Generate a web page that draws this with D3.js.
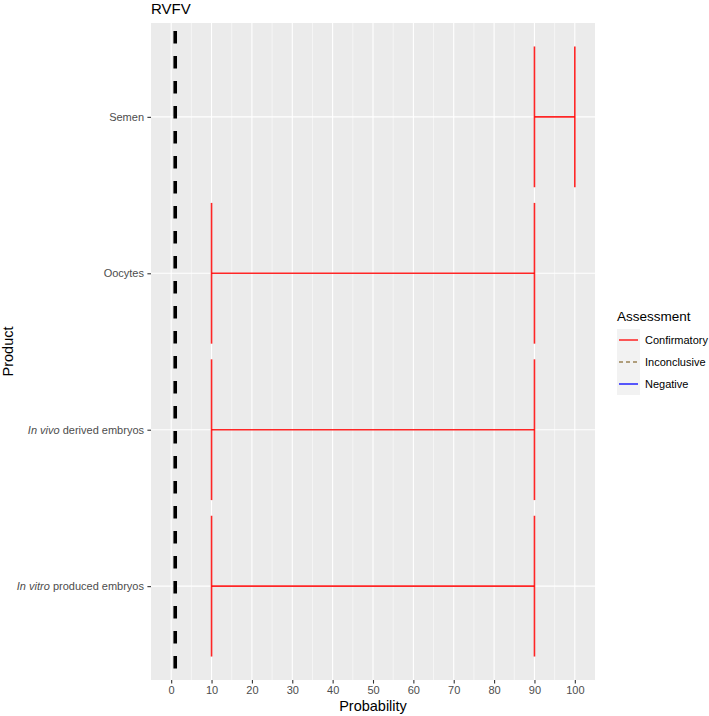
<!DOCTYPE html>
<html>
<head>
<meta charset="utf-8">
<script src="https://cdn.jsdelivr.net/npm/d3@7"></script>
<style>
  body { margin: 0; background: #fff; }
  svg { font-family: 'Liberation Sans', Arial, sans-serif; }
</style>
</head>
<body>
<svg id="chart" width="709" height="716"></svg>
<script>
// data
const products = ['Semen', 'Oocytes', 'In vivo derived embryos', 'In vitro produced embryos'];
const italicPrefix = ['', '', 'In vivo', 'In vitro'];
const lower = [90, 10, 10, 10];
const upper = [100, 90, 90, 90];
const assessment = ['Confirmatory', 'Confirmatory', 'Confirmatory', 'Confirmatory'];
const thresholdValue = 1;
const xTicks = [0, 10, 20, 30, 40, 50, 60, 70, 80, 90, 100];
const legendLabels = ['Confirmatory', 'Inconclusive', 'Negative'];
const legendColours = ['#FF0000', '#9a8256', '#0000FF'];
const legendDash = [null, '4,3', null];

const svg = d3.select('#chart');

const panel = { left: 151, right: 595, top: 23, bottom: 680 };

const x = d3.scaleLinear()
  .domain([-5, 105])
  .range([panel.left, panel.right]);

const y = d3.scalePoint()
  .domain(products)
  .range([panel.top, panel.bottom])
  .padding(0.6);

const halfBar = y.step() * 0.45;

// panel background
svg.append('rect')
  .attr('x', panel.left)
  .attr('y', panel.top)
  .attr('width', panel.right - panel.left)
  .attr('height', panel.bottom - panel.top)
  .attr('fill', '#EBEBEB');

// minor grid
const minor = d3.range(5, 100, 10);
svg.append('g').selectAll('line')
  .data(minor)
  .enter().append('line')
  .attr('x1', d => x(d)).attr('x2', d => x(d))
  .attr('y1', panel.top).attr('y2', panel.bottom)
  .attr('stroke', '#fff')
  .attr('stroke-width', 0.55);

// major grid
svg.append('g').selectAll('line')
  .data(xTicks)
  .enter().append('line')
  .attr('x1', d => x(d)).attr('x2', d => x(d))
  .attr('y1', panel.top).attr('y2', panel.bottom)
  .attr('stroke', '#fff')
  .attr('stroke-width', 1.1);

svg.append('g').selectAll('line')
  .data(products)
  .enter().append('line')
  .attr('x1', panel.left).attr('x2', panel.right)
  .attr('y1', d => y(d)).attr('y2', d => y(d))
  .attr('stroke', '#fff')
  .attr('stroke-width', 1.1);

// error bars
const colourOf = d3.scaleOrdinal().domain(legendLabels).range(legendColours);
const bars = svg.append('g').selectAll('g')
  .data(products.map((p, i) => ({ p, lo: lower[i], hi: upper[i], a: assessment[i] })))
  .enter().append('g')
  .attr('stroke', d => colourOf(d.a))
  .attr('stroke-opacity', 0.85)
  .attr('stroke-width', 1.6);

bars.append('line')
  .attr('x1', d => x(d.lo)).attr('x2', d => x(d.hi))
  .attr('y1', d => y(d.p)).attr('y2', d => y(d.p));

['lo', 'hi'].forEach(k => {
  bars.append('line')
    .attr('x1', d => x(d[k])).attr('x2', d => x(d[k]))
    .attr('y1', d => y(d.p) - halfBar).attr('y2', d => y(d.p) + halfBar);
});

// threshold line
svg.append('line')
  .attr('x1', x(thresholdValue)).attr('x2', x(thresholdValue))
  .attr('y1', panel.top).attr('y2', panel.bottom)
  .attr('stroke', '#000')
  .attr('stroke-width', 3.6)
  .attr('stroke-dasharray', '12.5,12.5')
  .attr('stroke-dashoffset', 17);

// x axis
const xAxis = svg.append('g')
  .attr('transform', `translate(0,${panel.bottom})`)
  .call(d3.axisBottom(x).tickValues(xTicks).tickSize(3.6).tickPadding(3));
xAxis.select('.domain').remove();
xAxis.selectAll('line').attr('stroke', '#333').attr('stroke-width', 1.1);
xAxis.selectAll('text')
  .attr('fill', '#4D4D4D')
  .attr('font-size', 11)
  .attr('font-family', "'Liberation Sans', Arial, sans-serif");

// y axis
const yAxis = svg.append('g')
  .attr('transform', `translate(${panel.left},0)`)
  .call(d3.axisLeft(y).tickSize(3.6).tickPadding(3).tickFormat(''));
yAxis.select('.domain').remove();
yAxis.selectAll('line').attr('stroke', '#333').attr('stroke-width', 1.1);

const yLabels = svg.append('g').selectAll('text')
  .data(products)
  .enter().append('text')
  .attr('x', panel.left - 7)
  .attr('y', d => y(d))
  .attr('dy', '0.35em')
  .attr('text-anchor', 'end')
  .attr('fill', '#4D4D4D')
  .attr('font-size', 11);

yLabels.each(function(d, i) {
  const t = d3.select(this);
  const pre = italicPrefix[i];
  if (pre) {
    t.append('tspan').attr('font-style', 'italic').text(pre);
    t.append('tspan').text(d.slice(pre.length));
  } else {
    t.text(d);
  }
});

// titles
svg.append('text')
  .attr('x', panel.left)
  .attr('y', 14)
  .attr('font-size', 15)
  .attr('fill', '#000')
  .text('RVFV');

svg.append('text')
  .attr('x', (panel.left + panel.right) / 2)
  .attr('y', 711)
  .attr('text-anchor', 'middle')
  .attr('font-size', 14.5)
  .attr('fill', '#000')
  .text('Probability');

svg.append('text')
  .attr('transform', `translate(13,${(panel.top + panel.bottom) / 2}) rotate(-90)`)
  .attr('text-anchor', 'middle')
  .attr('font-size', 14.5)
  .attr('fill', '#000')
  .text('Product');

// legend
const legend = svg.append('g').attr('transform', 'translate(617,0)');
legend.append('text')
  .attr('x', 0)
  .attr('y', 321)
  .attr('font-size', 13.5)
  .attr('fill', '#000')
  .text('Assessment');

const keyH = 22;
const keyTop = 329;
legend.append('rect')
  .attr('x', 0)
  .attr('y', keyTop)
  .attr('width', 23)
  .attr('height', keyH * legendLabels.length)
  .attr('fill', '#F2F2F2');

legendLabels.forEach((lab, i) => {
  const cy = keyTop + keyH * i + keyH / 2;
  legend.append('line')
    .attr('x1', 2).attr('x2', 21)
    .attr('y1', cy).attr('y2', cy)
    .attr('stroke', legendColours[i])
    .attr('stroke-width', 1.3)
    .attr('stroke-dasharray', legendDash[i]);
  legend.append('text')
    .attr('x', 28)
    .attr('y', cy)
    .attr('dy', '0.35em')
    .attr('font-size', 11)
    .attr('fill', '#000')
    .text(lab);
});
</script>
</body>
</html>
